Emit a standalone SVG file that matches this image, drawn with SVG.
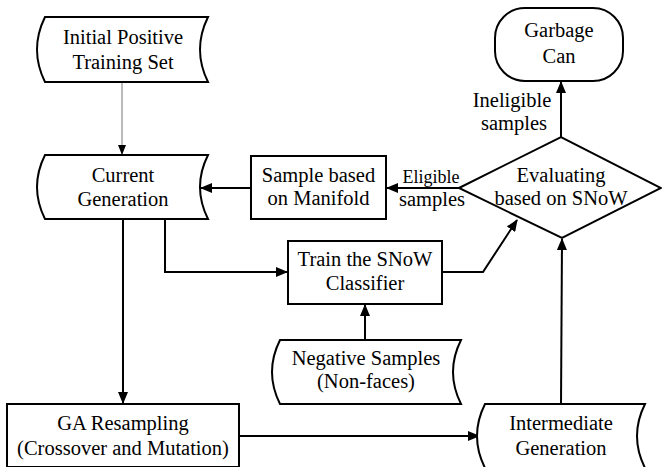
<svg xmlns="http://www.w3.org/2000/svg" width="662" height="467" viewBox="0 0 662 467">
<style>
.s{fill:#fff;stroke:#000;stroke-width:2}
.c{fill:none;stroke:#000;stroke-width:2}
</style>
<defs>
<marker id="a" markerWidth="12" markerHeight="10" refX="11" refY="5" orient="auto" markerUnits="userSpaceOnUse"><path d="M0,0 L12,5 L0,10 Z" fill="#000"/></marker>
<marker id="b" markerWidth="10" markerHeight="8" refX="9" refY="4" orient="auto" markerUnits="userSpaceOnUse"><path d="M0,0 L10,4 L0,8 Z" fill="#000"/></marker>
</defs>
<rect width="662" height="467" fill="#fff"/>
<g id="connectors">
<line x1="122" y1="82" x2="122" y2="154" stroke="#777" stroke-width="1" marker-end="url(#b)"/>
<line class="c" x1="251" y1="188" x2="201" y2="188" marker-end="url(#a)"/>
<line class="c" x1="459" y1="188" x2="387" y2="188" marker-end="url(#a)"/>
<polyline class="c" points="165,219 165,272 287,272" marker-end="url(#a)"/>
<polyline class="c" points="442,272 483,272 517,220" marker-end="url(#a)"/>
<line class="c" x1="123" y1="219" x2="123" y2="403" marker-end="url(#a)"/>
<line class="c" x1="365" y1="340" x2="365" y2="305" marker-end="url(#a)"/>
<line class="c" x1="239" y1="436" x2="479" y2="436" marker-end="url(#a)"/>
<line class="c" x1="561" y1="404" x2="562" y2="239" marker-end="url(#a)"/>
<line class="c" x1="561" y1="137" x2="561" y2="82" marker-end="url(#a)"/>
<text x="431" y="183" style="font-family:'Liberation Serif',serif;font-size:18px;text-anchor:middle">Eligible</text>
<text x="432" y="206" style="font-family:'Liberation Serif',serif;font-size:20.5px;text-anchor:middle">samples</text>
<text x="512" y="107" style="font-family:'Liberation Serif',serif;font-size:20.5px;text-anchor:middle">Ineligible</text>
<text x="514" y="130" style="font-family:'Liberation Serif',serif;font-size:20.5px;text-anchor:middle">samples</text>
</g>
<g id="initial">
<path class="s" d="M45,17 L208,17 Q192,49.5 208,82 L45,82 Q29,49.5 45,17 Z"/>
<text x="123" y="44" style="font-family:'Liberation Serif',serif;font-size:20.5px;text-anchor:middle">Initial Positive</text>
<text x="123" y="69" style="font-family:'Liberation Serif',serif;font-size:20.5px;text-anchor:middle">Training Set</text>
</g>
<g id="current">
<path class="s" d="M45,155 L208,155 Q192,187 208,219 L45,219 Q29,187 45,155 Z"/>
<text x="123" y="182" style="font-family:'Liberation Serif',serif;font-size:20.5px;text-anchor:middle">Current</text>
<text x="123" y="206" style="font-family:'Liberation Serif',serif;font-size:20.5px;text-anchor:middle">Generation</text>
</g>
<g id="sample">
<rect class="s" x="251" y="156" width="135" height="63"/>
<text x="318.5" y="182" style="font-family:'Liberation Serif',serif;font-size:20.5px;text-anchor:middle">Sample based</text>
<text x="318.5" y="205" style="font-family:'Liberation Serif',serif;font-size:20.5px;text-anchor:middle">on Manifold</text>
</g>
<g id="train">
<rect class="s" x="288" y="241" width="154" height="63"/>
<text x="365" y="266" style="font-family:'Liberation Serif',serif;font-size:20.5px;text-anchor:middle">Train the SNoW</text>
<text x="365" y="290" style="font-family:'Liberation Serif',serif;font-size:20.5px;text-anchor:middle">Classifier</text>
</g>
<g id="evaluate">
<polygon class="s" points="459,188 561,137 661,188 562,238"/>
<text x="561" y="182" style="font-family:'Liberation Serif',serif;font-size:20.5px;text-anchor:middle">Evaluating</text>
<text x="561" y="205" style="font-family:'Liberation Serif',serif;font-size:20.5px;text-anchor:middle">based on SNoW</text>
</g>
<g id="garbage">
<rect class="s" x="495" y="8" width="128" height="73" rx="30" ry="30"/>
<text x="559" y="37" style="font-family:'Liberation Serif',serif;font-size:20.5px;text-anchor:middle">Garbage</text>
<text x="559" y="63" style="font-family:'Liberation Serif',serif;font-size:20.5px;text-anchor:middle">Can</text>
</g>
<g id="negative">
<path class="s" d="M280,340 L461,340 Q445,372 461,404 L280,404 Q264,372 280,340 Z"/>
<text x="366" y="365" style="font-family:'Liberation Serif',serif;font-size:20.5px;text-anchor:middle">Negative Samples</text>
<text x="366" y="388" style="font-family:'Liberation Serif',serif;font-size:20.5px;text-anchor:middle">(Non-faces)</text>
</g>
<g id="ga">
<rect class="s" x="7" y="404" width="232" height="63"/>
<text x="123" y="430" style="font-family:'Liberation Serif',serif;font-size:20.5px;text-anchor:middle">GA Resampling</text>
<text x="123" y="455" style="font-family:'Liberation Serif',serif;font-size:20.5px;text-anchor:middle">(Crossover and Mutation)</text>
</g>
<g id="intermediate">
<path class="s" d="M485,404 L645,404 Q629,436 645,468 L485,468 Q469,436 485,404 Z"/>
<text x="561" y="430" style="font-family:'Liberation Serif',serif;font-size:20.5px;text-anchor:middle">Intermediate</text>
<text x="561" y="455" style="font-family:'Liberation Serif',serif;font-size:20.5px;text-anchor:middle">Generation</text>
</g>
</svg>
